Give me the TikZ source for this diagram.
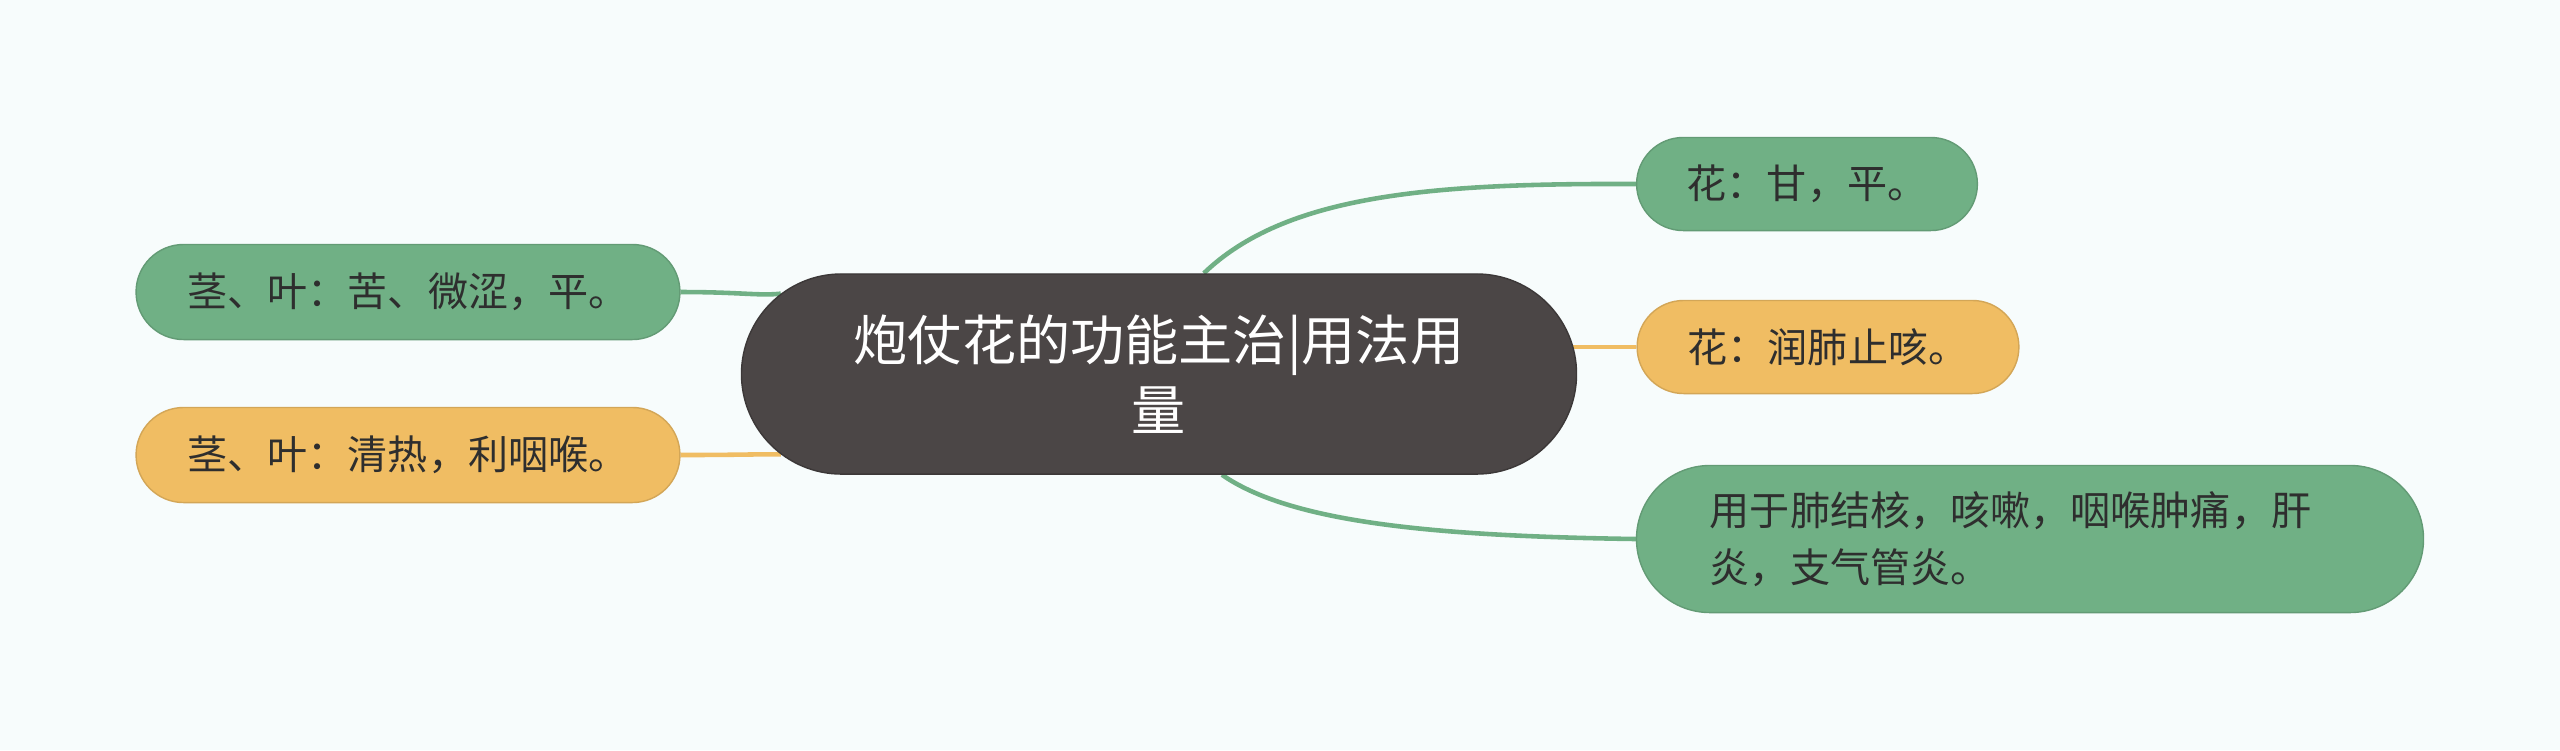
\documentclass[tikz,border=0pt]{standalone}
\usepackage{fontspec}
\setmainfont{Noto Sans CJK SC}
\usetikzlibrary{shapes.misc,backgrounds}

\definecolor{bgcol}{HTML}{F7FCFC}
\definecolor{leafgreen}{HTML}{70B085}
\definecolor{leaforange}{HTML}{F0BD63}
\definecolor{rootgray}{HTML}{4B4646}
\definecolor{inkgray}{HTML}{2E2E2E}

\tikzset{
  rootnode/.style={rounded rectangle, fill=rootgray, draw=rootgray!80!black,
    text=white, minimum width=8.58cm, minimum height=2cm, align=center,
    font=\fontsize{15.4pt}{19.9pt}\selectfont},
  leafnode/.style={rounded rectangle, text=inkgray, minimum height=0.93cm,
    font=\fontsize{11.4pt}{16.2pt}\selectfont},
  greenleaf/.style={leafnode, fill=leafgreen, draw=leafgreen!88!black},
  orangeleaf/.style={leafnode, fill=leaforange, draw=leaforange!88!black},
  greenlink/.style={draw=leafgreen, line width=1.3pt},
  orangelink/.style={draw=leaforange, line width=1.3pt},
}

\begin{document}
\begin{tikzpicture}[x=0.01cm,y=-0.01cm]
\useasboundingbox (0,0) rectangle (2560,750);

% centre
\node[rootnode] (root) at (1159,374) {炮仗花的功能主治|用法用\\量};

% right side
\node[greenleaf, minimum width=3.64cm] (huaA) at (1807,184) {花：甘，平。};
\node[orangeleaf, minimum width=4.05cm] (huaB) at (1828,347) {花：润肺止咳。};
\node[greenleaf, minimum width=8.10cm, minimum height=1.47cm,
      text width=6.4cm, align=left] (yong) at (2030,539)
      {用于肺结核，咳嗽，咽喉肿痛，肝\\炎，支气管炎。};

% left side
\node[greenleaf, minimum width=5.67cm, minimum height=0.95cm] (jingA) at (408,292) {茎、叶：苦、微涩，平。};
\node[orangeleaf, minimum width=5.67cm, minimum height=0.95cm] (jingB) at (408,455) {茎、叶：清热，利咽喉。};

\begin{scope}[on background layer]
\fill[bgcol] (0,0) rectangle (2560,750);
\draw[greenlink] (root.66) .. controls (1285,195) and (1430,183) .. (huaA.west);
\draw[orangelink] (root.center |- huaB.west) -- (huaB.west);
\draw[greenlink] (root.-58) .. controls (1290,522) and (1430,536) .. (yong.west);
\draw[greenlink] (jingA.east) .. controls (740,292) and (760,296) .. (root.168);
\draw[orangelink] (jingB.east) .. controls (740,455) and (760,454) .. (root.192);
\end{scope}
\end{tikzpicture}
\end{document}
